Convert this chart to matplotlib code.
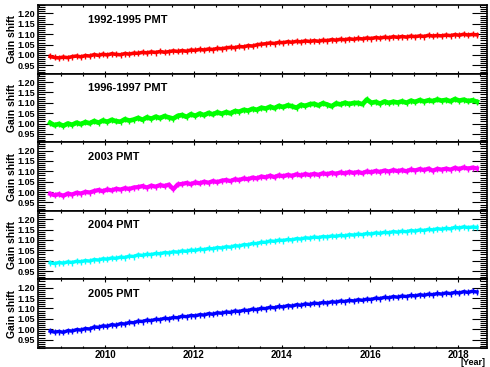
import matplotlib.pyplot as plt
from matplotlib.ticker import MultipleLocator
import numpy as np

plt.rcParams['font.family'] = ['Liberation Sans', 'DejaVu Sans']
plt.rcParams['font.weight'] = 'bold'

labels = ['1992-1995 PMT', '1996-1997 PMT', '2003 PMT', '2004 PMT', '2005 PMT']
colors = ['#ff0000', '#00ff00', '#ff00ff', '#00ffff', '#0000ff']
widths = [2.6, 3.4, 3.1, 2.5, 2.5]

# gain shift sampled every ~0.1 year from 2008.75 to 2018.42
gain_9295 = [
    0.993, 0.988, 0.986, 0.990, 0.987, 0.992, 0.995, 0.991, 0.997, 0.995,
    1.002, 0.998, 1.004, 1.000, 1.006, 1.003, 1.001, 1.007, 1.004, 1.009,
    1.008, 1.013, 1.010, 1.015, 1.012, 1.017, 1.013, 1.016, 1.020, 1.017,
    1.021, 1.018, 1.024, 1.022, 1.027, 1.024, 1.029, 1.026, 1.032, 1.030,
    1.034, 1.037, 1.035, 1.041, 1.039, 1.045, 1.043, 1.049, 1.052, 1.054,
    1.058, 1.055, 1.061, 1.059, 1.064, 1.061, 1.066, 1.063, 1.068, 1.065,
    1.069, 1.066, 1.071, 1.069, 1.074, 1.071, 1.076, 1.073, 1.078, 1.075,
    1.080, 1.077, 1.082, 1.079, 1.084, 1.081, 1.086, 1.083, 1.088, 1.085,
    1.089, 1.086, 1.091, 1.088, 1.092, 1.089, 1.095, 1.091, 1.094, 1.092,
    1.096, 1.093, 1.098, 1.095, 1.100, 1.096, 1.099, 1.097,
]
gain_9697 = [
    1.003, 0.992, 0.998, 0.989, 1.000, 0.994, 1.004, 0.997, 1.007, 1.001,
    1.012, 1.004, 1.015, 1.008, 1.018, 1.011, 1.009, 1.021, 1.014, 1.019,
    1.027, 1.018, 1.030, 1.023, 1.033, 1.026, 1.036, 1.029, 1.024, 1.037,
    1.041, 1.032, 1.045, 1.037, 1.048, 1.040, 1.051, 1.044, 1.054, 1.047,
    1.055, 1.049, 1.060, 1.057, 1.066, 1.062, 1.071, 1.066, 1.076, 1.072,
    1.081, 1.074, 1.085, 1.079, 1.088, 1.083, 1.076, 1.090, 1.085, 1.093,
    1.095, 1.087, 1.098, 1.091, 1.083, 1.097, 1.092, 1.100, 1.094, 1.099,
    1.099, 1.093, 1.116, 1.100, 1.104, 1.096, 1.106, 1.099, 1.105, 1.101,
    1.107, 1.100, 1.110, 1.104, 1.113, 1.106, 1.112, 1.108, 1.116, 1.110,
    1.114, 1.107, 1.118, 1.110, 1.115, 1.108, 1.112, 1.105,
]
gain_2003 = [
    0.992, 0.985, 0.990, 0.982, 0.993, 0.988, 0.997, 0.993, 1.001, 0.998,
    1.005, 1.010, 1.004, 1.013, 1.008, 1.016, 1.012, 1.019, 1.015, 1.022,
    1.024, 1.029, 1.022, 1.031, 1.026, 1.034, 1.029, 1.036, 1.014, 1.037,
    1.039, 1.044, 1.038, 1.047, 1.042, 1.050, 1.045, 1.053, 1.048, 1.055,
    1.058, 1.053, 1.062, 1.058, 1.066, 1.062, 1.070, 1.066, 1.075, 1.071,
    1.079, 1.072, 1.081, 1.076, 1.083, 1.078, 1.086, 1.080, 1.087, 1.082,
    1.088, 1.083, 1.091, 1.086, 1.093, 1.088, 1.095, 1.090, 1.097, 1.092,
    1.097, 1.091, 1.100, 1.095, 1.102, 1.097, 1.104, 1.099, 1.106, 1.101,
    1.106, 1.100, 1.109, 1.104, 1.111, 1.106, 1.113, 1.103, 1.112, 1.108,
    1.113, 1.108, 1.117, 1.111, 1.119, 1.113, 1.118, 1.114,
]
gain_2004 = [
    0.990, 0.986, 0.991, 0.988, 0.994, 0.991, 0.997, 0.995, 1.000, 0.998,
    1.005, 1.003, 1.009, 1.007, 1.013, 1.011, 1.017, 1.015, 1.022, 1.020,
    1.028, 1.025, 1.031, 1.029, 1.035, 1.033, 1.039, 1.037, 1.043, 1.041,
    1.047, 1.045, 1.051, 1.049, 1.055, 1.053, 1.059, 1.057, 1.063, 1.061,
    1.067, 1.065, 1.072, 1.070, 1.077, 1.076, 1.083, 1.082, 1.089, 1.088,
    1.095, 1.093, 1.099, 1.097, 1.102, 1.100, 1.106, 1.104, 1.110, 1.108,
    1.114, 1.111, 1.116, 1.114, 1.119, 1.117, 1.122, 1.119, 1.125, 1.123,
    1.128, 1.125, 1.131, 1.128, 1.134, 1.131, 1.137, 1.134, 1.140, 1.137,
    1.142, 1.139, 1.145, 1.142, 1.148, 1.145, 1.151, 1.148, 1.154, 1.151,
    1.156, 1.153, 1.161, 1.157, 1.163, 1.159, 1.162, 1.160,
]
gain_2005 = [
    0.991, 0.986, 0.989, 0.985, 0.993, 0.991, 0.998, 0.996, 1.003, 1.001,
    1.011, 1.009, 1.016, 1.014, 1.022, 1.019, 1.027, 1.025, 1.033, 1.031,
    1.039, 1.037, 1.044, 1.041, 1.048, 1.046, 1.053, 1.050, 1.057, 1.055,
    1.063, 1.060, 1.066, 1.064, 1.070, 1.068, 1.075, 1.072, 1.079, 1.077,
    1.083, 1.081, 1.088, 1.085, 1.092, 1.090, 1.097, 1.094, 1.101, 1.099,
    1.106, 1.103, 1.110, 1.107, 1.114, 1.111, 1.118, 1.115, 1.122, 1.119,
    1.126, 1.123, 1.129, 1.126, 1.132, 1.130, 1.136, 1.133, 1.139, 1.136,
    1.142, 1.139, 1.145, 1.143, 1.150, 1.147, 1.154, 1.151, 1.157, 1.154,
    1.160, 1.157, 1.163, 1.160, 1.166, 1.163, 1.169, 1.166, 1.172, 1.169,
    1.175, 1.171, 1.178, 1.174, 1.181, 1.177, 1.183, 1.179,
]
series = [gain_9295, gain_9697, gain_2003, gain_2004, gain_2005]
t_start, t_end = 2008.75, 2018.42

fig, axes = plt.subplots(5, 1, sharex=True, figsize=(4.9, 3.67), dpi=100)
fig.subplots_adjust(left=0.078, right=0.994, top=0.986, bottom=0.052, hspace=0)

for ax, vals, c, lw, lab in zip(axes, series, colors, widths, labels):
    t = np.linspace(t_start, t_end, len(vals))
    ax.plot(t, vals, c=c, lw=lw, marker='|', ms=5, mew=1.0)
    ax.set_xlim(2008.48, 2018.65)
    ax.set_ylim(0.91, 1.24)
    ax.yaxis.set_major_locator(MultipleLocator(0.05))
    ax.yaxis.set_minor_locator(MultipleLocator(0.01))
    ax.xaxis.set_major_locator(MultipleLocator(2))
    ax.xaxis.set_minor_locator(MultipleLocator(0.5))
    ax.tick_params(axis='y', which='both', direction='in', left=True, right=True,
                   labelsize=6.5, pad=2.5, width=0.8)
    ax.tick_params(axis='y', which='major', length=10.5)
    ax.tick_params(axis='y', which='minor', length=5)
    ax.tick_params(axis='x', which='both', direction='in', top=True, bottom=True,
                   labelsize=7, pad=1.5, width=0.8)
    ax.tick_params(axis='x', which='major', length=2.5)
    ax.tick_params(axis='x', which='minor', length=1.2)
    ax.yaxis.set_major_formatter(plt.FormatStrFormatter('%.2f'))
    for s in ax.spines.values():
        s.set_linewidth(1.2)
    ax.set_ylabel('Gain shift', fontsize=7.5, fontweight='bold', labelpad=0)
    ax.text(0.11, 0.79, lab, transform=ax.transAxes, fontsize=8,
            fontweight='bold', va='center', ha='left')

fig.text(485 / 490, 1 - 362.5 / 367, '[Year]', fontsize=6.5, fontweight='bold',
         ha='right', va='center')

fig.savefig('out.png', dpi=100)
